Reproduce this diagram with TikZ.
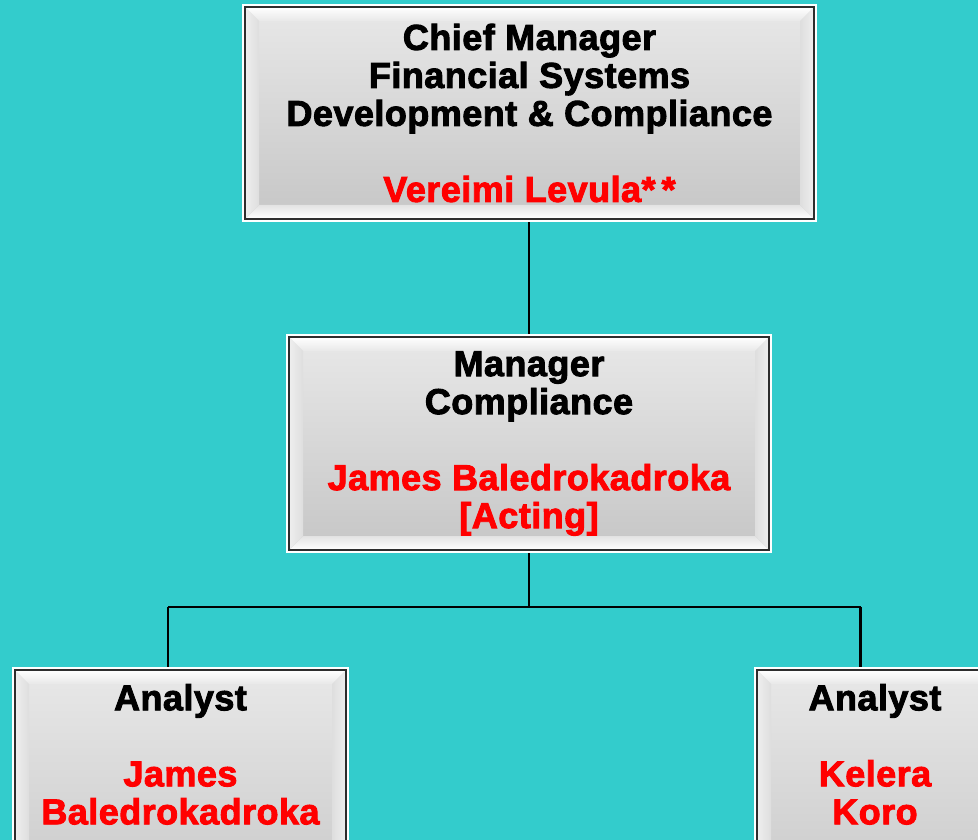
\documentclass[tikz,border=0pt]{standalone}
\usepackage{fontspec}
\newfontfamily\boxfont{Liberation Sans Bold}[FakeBold=2.5,LetterSpace=1.3]
\usetikzlibrary{calc}
\definecolor{bgteal}{RGB}{51,204,204}
\definecolor{namered}{RGB}{255,0,0}
\definecolor{edgedark}{RGB}{45,45,45}
\definecolor{gtop}{RGB}{232,232,232}
\definecolor{gbot}{RGB}{198,198,198}
\definecolor{gside}{RGB}{222,222,222}
\tikzset{
  orgbox/.style={rectangle, inner sep=0pt, draw=edgedark, line width=2pt,
    preaction={draw=white, line width=6pt},
    top color=gtop, bottom color=gbot,
    align=center, font={\boxfont\fontsize{36}{38}\selectfont},
    path picture={
      \def\bw{14pt}
      \coordinate (nw) at (path picture bounding box.north west);
      \coordinate (ne) at (path picture bounding box.north east);
      \coordinate (sw) at (path picture bounding box.south west);
      \coordinate (se) at (path picture bounding box.south east);
      \shade[top color=white, bottom color=gtop]
        (nw) -- (ne) -- ([xshift=-\bw,yshift=-\bw]ne) -- ([xshift=\bw,yshift=-\bw]nw) -- cycle;
      \shade[bottom color=white, top color=gbot!50!white]
        (sw) -- (se) -- ([xshift=-\bw,yshift=\bw]se) -- ([xshift=\bw,yshift=\bw]sw) -- cycle;
      \shade[left color=white!50!gside, right color=gside]
        (nw) -- ([xshift=\bw,yshift=-\bw]nw) -- ([xshift=\bw,yshift=\bw]sw) -- (sw) -- cycle;
      \shade[right color=white!50!gside, left color=gside]
        (ne) -- ([xshift=-\bw,yshift=-\bw]ne) -- ([xshift=-\bw,yshift=\bw]se) -- (se) -- cycle;
    }},
  boxtext/.style={inner sep=0pt, align=center, font={\boxfont\fontsize{36}{38}\selectfont}},
  link/.style={draw=black, line width=2.5pt}
}
\begin{document}
\begin{tikzpicture}[x=1pt,y=-1pt]
  \fill[bgteal] (0,0) rectangle (978,840);
  \useasboundingbox (0,0) rectangle (978,840);
  \clip (0,0) rectangle (978,840);

  % connectors (drawn first, under boxes)
  \coordinate (jl) at (168,607);
  \coordinate (jr) at (860.5,607);
  \coordinate (topc) at (529.5,113);
  \coordinate (midc) at (529,443.5);
  \draw[link] (529,222) coordinate (tbot) -- (529,334) coordinate (mtop);
  \draw[link] (529,553) coordinate (mbot) -- (529,607) coordinate (mj);
  \draw[link] (jl) -- (jr);
  \draw[link] (jl) -- (168,669) coordinate (bltop);
  \draw[link] (jr) -- (860.5,669) coordinate (brtop);

  % boxes
  \node[orgbox, minimum width=569pt, minimum height=212pt] (chief) at (topc)
    {Chief Manager\\Financial Systems\\Development \& Compliance\\[38pt]
     \textcolor{namered}{Vereimi Levula*\,*}};
  \node[orgbox, minimum width=480pt, minimum height=213pt] (mgr) at (midc)
    {Manager\\Compliance\\[38pt]
     \textcolor{namered}{James Baledrokadroka}\\
     \textcolor{namered}{[Acting]}};
  \node[orgbox, minimum width=331pt, minimum height=250pt, anchor=north] (al) at (180.5,669) {};
  \node[orgbox, minimum width=236pt, minimum height=250pt, anchor=north] (ar) at (875,669) {};
  \node[boxtext, anchor=north] (alt) at (180.5,684)
    {Analyst\\[38pt]\textcolor{namered}{James}\\\textcolor{namered}{Baledrokadroka}};
  \node[boxtext, anchor=north] (art) at (875,684)
    {Analyst\\[38pt]\textcolor{namered}{Kelera}\\\textcolor{namered}{Koro}};
\end{tikzpicture}
\end{document}
